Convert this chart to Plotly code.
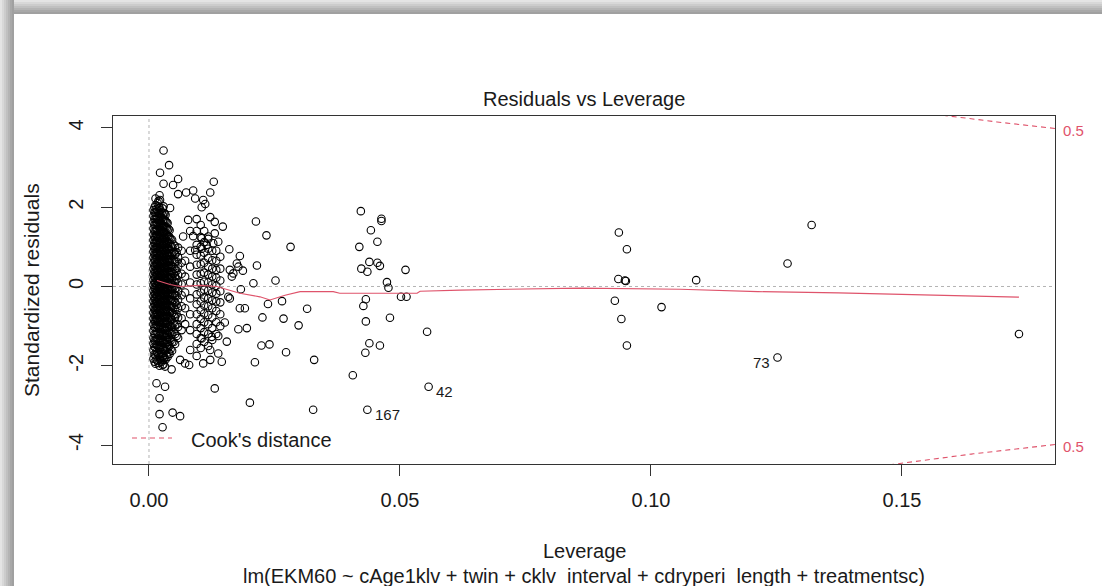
import numpy as np
import plotly.graph_objects as go

# ---------------------------------------------------------------------------
# Data: leverage (hat values) and standardized residuals
# ---------------------------------------------------------------------------

# Dense core of low-leverage observations, one residual list per leverage column
core_lev = [0.0009, 0.0013, 0.0017, 0.0021, 0.0025, 0.0029, 0.0033,
            0.0037, 0.0041, 0.0046, 0.0052, 0.0058, 0.0065, 0.0072]
core_res = [
    [-1.82, -1.61, -1.44, -1.3, -1.12, -0.95, -0.81, -0.66, -0.52, -0.37, -0.24, -0.1, 0.04,
     0.17, 0.31, 0.45, 0.6, 0.73, 0.88, 1.02, 1.17, 1.31, 1.46, 1.62, 1.78, 1.93],
    [-1.95, -1.74, -1.55, -1.38, -1.21, -1.04, -0.88, -0.73, -0.59, -0.45, -0.31, -0.18, -0.05,
     0.09, 0.22, 0.36, 0.51, 0.66, 0.8, 0.95, 1.09, 1.24, 1.39, 1.55, 1.7, 1.86, 2.05, 2.22],
    [-1.88, -1.67, -1.49, -1.33, -1.16, -0.99, -0.84, -0.69, -0.55, -0.41, -0.27, -0.14, 0.0,
     0.13, 0.27, 0.41, 0.56, 0.7, 0.84, 0.99, 1.14, 1.28, 1.43, 1.59, 1.74, 1.91, 2.1],
    [-2.0, -1.78, -1.58, -1.4, -1.24, -1.07, -0.91, -0.76, -0.62, -0.48, -0.34, -0.21, -0.07,
     0.06, 0.2, 0.34, 0.48, 0.62, 0.77, 0.91, 1.06, 1.21, 1.36, 1.5, 1.66, 1.82, 1.98, 2.3],
    [-1.9, -1.7, -1.52, -1.35, -1.19, -1.02, -0.86, -0.71, -0.57, -0.43, -0.29, -0.16, -0.02,
     0.11, 0.25, 0.39, 0.53, 0.67, 0.81, 0.96, 1.11, 1.26, 1.41, 1.57, 1.73, 1.88],
    [-1.96, -1.75, -1.56, -1.39, -1.22, -1.05, -0.9, -0.75, -0.6, -0.46, -0.33, -0.19, -0.06,
     0.08, 0.21, 0.35, 0.49, 0.64, 0.78, 0.93, 1.08, 1.23, 1.38, 1.53, 1.69, 1.85, 2.02],
    [-1.84, -1.62, -1.45, -1.28, -1.11, -0.94, -0.79, -0.64, -0.5, -0.36, -0.22, -0.09, 0.05,
     0.18, 0.32, 0.46, 0.6, 0.75, 0.9, 1.04, 1.19, 1.34, 1.5, 1.65, 1.81],
    [-1.78, -1.57, -1.4, -1.22, -1.06, -0.9, -0.74, -0.59, -0.45, -0.31, -0.17, -0.04, 0.1,
     0.23, 0.37, 0.51, 0.66, 0.81, 0.96, 1.11, 1.26, 1.42, 1.6],
    [-1.7, -1.5, -1.31, -1.14, -0.97, -0.8, -0.65, -0.5, -0.36, -0.22, -0.08, 0.06, 0.19,
     0.33, 0.47, 0.62, 0.77, 0.92, 1.08, 1.24, 1.42],
    [-1.62, -1.4, -1.2, -1.02, -0.84, -0.67, -0.51, -0.36, -0.21, -0.07, 0.07, 0.21, 0.36,
     0.51, 0.67, 0.83, 1.0, 1.18],
    [-1.45, -1.2, -0.98, -0.77, -0.58, -0.4, -0.23, -0.06, 0.1, 0.27, 0.44, 0.62, 0.81, 1.02],
    [-1.3, -1.02, -0.78, -0.55, -0.33, -0.12, 0.08, 0.29, 0.51, 0.74, 0.98],
    [-1.1, -0.8, -0.5, -0.22, 0.05, 0.32, 0.6, 0.9],
    [-0.95, -0.55, -0.15, 0.25, 0.65],
]

# Further core observations lying between the columns above
core2_lev = [0.0011, 0.0015, 0.0019, 0.0023, 0.0027, 0.0031, 0.0035,
             0.0039, 0.0043, 0.0049, 0.0055]
core2_res = [
    [-1.9, -1.71, -1.52, -1.36, -1.2, -1.03, -0.87, -0.72, -0.58, -0.44, -0.3, -0.17, -0.03,
     0.1, 0.24, 0.38, 0.52, 0.67, 0.81, 0.95, 1.1, 1.25, 1.4, 1.56, 1.71, 1.87, 2.0],
    [-1.84, -1.64, -1.47, -1.31, -1.14, -0.97, -0.82, -0.68, -0.53, -0.39, -0.25, -0.12, 0.02,
     0.15, 0.29, 0.43, 0.58, 0.72, 0.86, 1.0, 1.15, 1.3, 1.45, 1.61, 1.77, 1.95],
    [-1.93, -1.72, -1.54, -1.37, -1.2, -1.03, -0.88, -0.72, -0.58, -0.44, -0.31, -0.17, -0.04,
     0.1, 0.23, 0.37, 0.51, 0.65, 0.79, 0.94, 1.08, 1.23, 1.38, 1.53, 1.69, 1.85, 2.02, 2.16],
    [-1.86, -1.66, -1.48, -1.31, -1.15, -0.98, -0.83, -0.68, -0.54, -0.4, -0.26, -0.13, 0.01,
     0.14, 0.28, 0.42, 0.56, 0.7, 0.85, 0.99, 1.14, 1.29, 1.44, 1.6, 1.76, 1.92],
    [-1.98, -1.77, -1.59, -1.42, -1.25, -1.08, -0.93, -0.78, -0.63, -0.49, -0.36, -0.22, -0.09,
     0.05, 0.18, 0.32, 0.46, 0.61, 0.75, 0.9, 1.05, 1.2, 1.35, 1.5, 1.66, 1.81, 1.97],
    [-1.8, -1.6, -1.42, -1.25, -1.08, -0.92, -0.77, -0.62, -0.48, -0.34, -0.2, -0.07, 0.07,
     0.2, 0.34, 0.48, 0.63, 0.78, 0.92, 1.07, 1.22, 1.37, 1.52, 1.68, 1.84],
    [-1.73, -1.52, -1.35, -1.18, -1.02, -0.86, -0.7, -0.56, -0.42, -0.28, -0.14, -0.01, 0.13,
     0.26, 0.4, 0.54, 0.69, 0.84, 0.99, 1.14, 1.3, 1.46, 1.62],
    [-1.66, -1.46, -1.28, -1.11, -0.94, -0.78, -0.62, -0.47, -0.33, -0.19, -0.05, 0.09, 0.22,
     0.36, 0.5, 0.65, 0.8, 0.95, 1.11, 1.27, 1.45],
    [-1.58, -1.36, -1.17, -0.99, -0.82, -0.65, -0.49, -0.34, -0.19, -0.05, 0.09, 0.23, 0.38,
     0.53, 0.69, 0.85, 1.02, 1.2],
    [-1.4, -1.15, -0.93, -0.72, -0.53, -0.35, -0.18, -0.01, 0.15, 0.32, 0.49, 0.67, 0.86, 1.06],
    [-1.25, -0.95, -0.7, -0.46, -0.24, -0.03, 0.18, 0.4, 0.63, 0.86],
]

# Secondary band of observations with leverage about 0.008-0.015
band_lev = [0.0082, 0.0095, 0.0103, 0.0110, 0.0118, 0.0126, 0.0134, 0.0142]
band_res = [
    [-1.6, -1.1, -0.7, -0.3, 0.1, 0.5, 0.9, 1.4],
    [-1.75, -1.45, -1.2, -0.95, -0.7, -0.45, -0.2, 0.05, 0.3, 0.55, 0.8, 1.05, 1.4, 1.7],
    [-1.55, -1.3, -1.05, -0.82, -0.6, -0.38, -0.15, 0.08, 0.32, 0.56, 0.78, 1.0, 1.25, 1.55],
    [-1.4, -1.15, -0.9, -0.68, -0.48, -0.28, -0.08, 0.12, 0.35, 0.6, 0.85, 1.12, 1.4],
    [-1.5, -1.2, -0.95, -0.72, -0.5, -0.3, -0.1, 0.1, 0.3, 0.5, 0.72, 0.95, 1.2],
    [-1.35, -1.05, -0.78, -0.55, -0.35, -0.15, 0.05, 0.25, 0.45, 0.66, 0.9],
    [-1.2, -0.9, -0.62, -0.38, -0.18, 0.02, 0.22, 0.42, 0.65, 0.9],
    [-1.0, -0.7, -0.4, -0.12, 0.15, 0.45, 0.75],
]

# Individually placed observations
lev_pts = [
    0.0029, 0.0040, 0.0022, 0.0058, 0.0029, 0.0048, 0.0129, 0.0122, 0.0058, 0.0074,
    0.0088, 0.0092, 0.0108, 0.0105, 0.0112, 0.0022, 0.0042, 0.0078, 0.0122, 0.0131,
    0.0147, 0.0088, 0.0068, 0.0105, 0.0118, 0.0131, 0.0115, 0.0128, 0.0138, 0.0160,
    0.0092, 0.0105, 0.0181, 0.0215, 0.0208, 0.0175, 0.0178, 0.0161, 0.0165, 0.0168,
    0.0158, 0.0161, 0.0181, 0.0191, 0.0151, 0.0178, 0.0195, 0.0155, 0.0105, 0.0125,
    0.0138, 0.0122, 0.0138, 0.0145, 0.0108, 0.0122, 0.0062, 0.0072, 0.0080, 0.0029,
    0.0032, 0.0045, 0.0015, 0.0032, 0.0131, 0.0021, 0.0021, 0.0047, 0.0062, 0.0027,
    0.0201, 0.0213, 0.0234, 0.0282, 0.0187, 0.0252, 0.0183, 0.0265, 0.0237, 0.0315,
    0.0226, 0.0268, 0.0298, 0.0224, 0.0240, 0.0273, 0.0211, 0.0329, 0.0327,
    0.0422, 0.0463, 0.0463, 0.0442, 0.0455, 0.0419, 0.0439, 0.0455, 0.0460, 0.0423,
    0.0435, 0.0511, 0.0474, 0.0477, 0.0502, 0.0513, 0.0432, 0.0427, 0.0480, 0.0432,
    0.0554, 0.0439, 0.0460, 0.0431, 0.0406,
    0.0936, 0.0952, 0.0935, 0.0948, 0.0950, 0.1090, 0.0928, 0.1021, 0.0941, 0.0952,
    0.1272, 0.1320, 0.1733,
]
res_pts = [
    3.43, 3.06, 2.87, 2.71, 2.59, 2.56, 2.64, 2.37, 2.33, 2.37,
    2.42, 2.22, 2.18, 2.0, 2.08, 2.18, 1.98, 1.68, 1.75, 1.63,
    1.51, 1.27, 1.26, 1.22, 1.26, 1.34, 1.05, 1.09, 1.13, 0.94,
    0.92, 0.95, 0.77, 0.53, 0.08, 0.58, 0.50, 0.42, 0.25, 0.33,
    -0.26, -0.30, -0.55, -0.55, -0.91, -1.08, -1.05, -1.39, -1.31, -1.27,
    -1.25, -1.60, -1.69, -1.90, -1.94, -1.85, -1.85, -1.94, -1.98, -1.85,
    -2.02, -2.09, -2.44, -2.53, -2.57, -2.82, -3.22, -3.18, -3.27, -3.55,
    -2.93, 1.64, 1.29, 1.00, 0.40, 0.15, -0.07, -0.37, -0.44, -0.56,
    -0.78, -0.81, -0.98, -1.49, -1.46, -1.66, -1.91, -1.85, -3.11,
    1.90, 1.71, 1.65, 1.42, 1.13, 1.00, 0.62, 0.60, 0.52, 0.45,
    0.37, 0.42, 0.11, -0.03, -0.26, -0.26, -0.32, -0.49, -0.79, -0.88,
    -1.14, -1.43, -1.49, -1.67, -2.24,
    1.36, 0.94, 0.19, 0.15, 0.14, 0.16, -0.36, -0.52, -0.82, -1.49,
    0.58, 1.55, -1.20,
]

# Observations identified by row number
id_labels = ["167", "42", "73"]
id_lev = [0.0435, 0.0557, 0.1252]
id_res = [-3.11, -2.53, -1.79]

# Smoothed trend of residuals against leverage
smooth_lev = [0.0016, 0.0042, 0.0062, 0.0102, 0.0135, 0.0181, 0.0221, 0.0241, 0.0271,
              0.0301, 0.0367, 0.0380, 0.0534, 0.0540, 0.0620, 0.0859, 0.1058, 0.1131,
              0.1213, 0.1373, 0.1733]
smooth_res = [0.15, 0.05, 0.0, 0.03, 0.0, -0.17, -0.26, -0.34, -0.22,
              -0.13, -0.13, -0.17, -0.17, -0.12, -0.09, -0.04, -0.07, -0.10,
              -0.13, -0.16, -0.27]

# Cook's distance contour
n_coef = 7
cook_level = 0.5

# Axis settings
x_range = [-0.00717, 0.18048]
y_range = [-4.477, 4.300]
x_ticks = [0.0, 0.05, 0.10, 0.15]
x_ticktext = ["0.00", "0.05", "0.10", "0.15"]
y_ticks = [-4, -2, 0, 2, 4]
y_ticktext = ["-4", "-2", "0", "2", "4"]

title_text = "Residuals vs Leverage"
x_title = "Leverage"
y_title = "Standardized residuals"
caption = "lm(EKM60 ~ cAge1klv + twin + cklv_interval + cdryperi_length + treatmentsc)"

# ---------------------------------------------------------------------------
RED = "#DF536B"
FONT = "Liberation Sans, Arial, sans-serif"
INK = "#1a1a1a"

# Page geometry in pixels
W, H = 1102, 586
ML, MR, MT, MB = 113, 47, 116, 122
PW, PH = W - ML - MR, H - MT - MB


def px_x(px):
    return (px - ML) / PW


def px_y(py):
    return (H - MB - py) / PH


all_lev, all_res = [], []
for levs, cols in ((core_lev, core_res), (core2_lev, core2_res), (band_lev, band_res)):
    for lv, col in zip(levs, cols):
        all_lev += [lv] * len(col)
        all_res += col
all_lev += lev_pts + id_lev
all_res += res_pts + id_res

fig = go.Figure()

fig.add_trace(go.Scatter(
    x=all_lev, y=all_res, mode="markers",
    marker=dict(symbol="circle-open", size=7.5, color="black",
                line=dict(width=1.1, color="black")),
    hoverinfo="skip",
))

fig.add_trace(go.Scatter(
    x=smooth_lev, y=smooth_res, mode="lines",
    line=dict(color=RED, width=1.2), hoverinfo="skip",
))

# Cook's distance contour lines at the chosen level
hh = np.linspace(0.01, x_range[1], 400)
cook_r = np.sqrt(cook_level * n_coef * (1 - hh) / hh)
for sign in (1, -1):
    fig.add_trace(go.Scatter(
        x=hh, y=sign * cook_r, mode="lines",
        line=dict(color=RED, width=1.1, dash="5px,4px"), hoverinfo="skip",
    ))

shapes = []
# dotted reference lines at zero
shapes.append(dict(type="line", xref="x", yref="paper", x0=0, x1=0, y0=0, y1=1,
                   line=dict(color="#b4b4b4", width=1, dash="dot"), layer="below"))
shapes.append(dict(type="line", xref="paper", yref="y", x0=0, x1=1, y0=0, y1=0,
                   line=dict(color="#b4b4b4", width=1, dash="dot"), layer="below"))
# legend key
shapes.append(dict(type="line", xref="paper", yref="paper",
                   x0=px_x(132), x1=px_x(172), y0=px_y(438), y1=px_y(438),
                   line=dict(color=RED, width=1.1, dash="5px,4px")))

# window shadow along the left and top edges
greys = ["#e4e4e4", "#d8d8d8", "#cccccc", "#c0c0c0", "#b4b4b4", "#a8a8a8", "#a0a0a0"]
for i, g in enumerate(greys):
    shapes.append(dict(type="rect", xref="paper", yref="paper",
                       x0=px_x(i * 2), x1=px_x(i * 2 + 2), y0=px_y(H), y1=px_y(0),
                       fillcolor=g, line=dict(width=0), layer="above"))
    shapes.append(dict(type="rect", xref="paper", yref="paper",
                       x0=px_x(i * 2), x1=px_x(W), y0=px_y(i * 2 + 2), y1=px_y(i * 2),
                       fillcolor=g, line=dict(width=0), layer="above"))

annotations = [
    dict(text=title_text, xref="paper", yref="paper", x=0.5, y=px_y(99),
         xanchor="center", yanchor="middle", showarrow=False,
         font=dict(family=FONT, size=20, color=INK)),
    dict(text=x_title, xref="paper", yref="paper", x=0.5, y=px_y(551),
         xanchor="center", yanchor="middle", showarrow=False,
         font=dict(family=FONT, size=20, color=INK)),
    dict(text=caption, xref="paper", yref="paper", x=0.5, y=px_y(576),
         xanchor="center", yanchor="middle", showarrow=False,
         font=dict(family=FONT, size=20, color=INK)),
    dict(text=y_title, xref="paper", yref="paper", x=px_x(31), y=0.5,
         xanchor="center", yanchor="middle", textangle=-90, showarrow=False,
         font=dict(family=FONT, size=21, color=INK)),
    dict(text="Cook's distance", xref="paper", yref="paper", x=px_x(189), y=px_y(440),
         xanchor="left", yanchor="middle", showarrow=False,
         font=dict(family=FONT, size=20, color=INK)),
]

# Row-number labels beside the identified points (right of the first two, left of the last)
label_side = ["left", "left", "right"]
label_dx = [6, 5, -6]
for lab, lv, rv, side, dx in zip(id_labels, id_lev, id_res, label_side, label_dx):
    annotations.append(dict(text=lab, xref="x", yref="y", x=lv, y=rv,
                            xanchor=side, yanchor="middle", xshift=dx, yshift=-5,
                            showarrow=False, font=dict(family=FONT, size=15, color=INK)))

# contour level labels on the right-hand side
edge_r = float(np.sqrt(cook_level * n_coef * (1 - x_range[1]) / x_range[1]))
for sign in (1, -1):
    annotations.append(dict(text=str(cook_level), xref="paper", yref="y",
                            x=px_x(1061), y=sign * edge_r, xanchor="left", yanchor="middle",
                            yshift=-2, showarrow=False,
                            font=dict(family=FONT, size=15, color=RED)))

fig.update_layout(
    width=W, height=H,
    margin=dict(l=ML, r=MR, t=MT, b=MB, autoexpand=False),
    paper_bgcolor="white", plot_bgcolor="white",
    showlegend=False,
    font=dict(family=FONT, size=20, color=INK),
    shapes=shapes, annotations=annotations,
    xaxis=dict(range=x_range, tickvals=x_ticks, ticktext=x_ticktext,
               ticks="outside", ticklen=11, tickcolor="#333", tickwidth=1,
               showline=True, mirror=True, linecolor="#333", linewidth=1,
               showgrid=False, zeroline=False, ticklabelstandoff=7,
               tickfont=dict(family=FONT, size=20, color=INK)),
    yaxis=dict(range=y_range, tickvals=y_ticks, ticktext=y_ticktext,
               ticks="outside", ticklen=11, tickcolor="#333", tickwidth=1,
               tickangle=-90,
               showline=True, mirror=True, linecolor="#333", linewidth=1,
               showgrid=False, zeroline=False, ticklabelstandoff=10,
               tickfont=dict(family=FONT, size=20, color=INK)),
)

fig.write_html("out.html")
